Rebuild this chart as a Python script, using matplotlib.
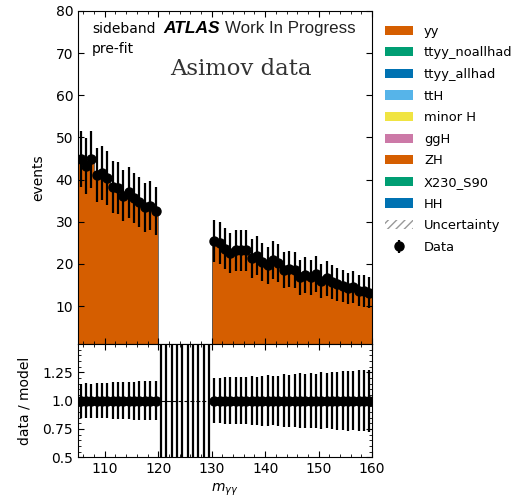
import numpy as np
import matplotlib
matplotlib.use('Agg')
import matplotlib.pyplot as plt
from matplotlib.patches import Patch
from matplotlib.ticker import AutoMinorLocator, MultipleLocator

# m_yy binning (1 GeV bins), signal region 120-130 is blinded
edges = np.arange(105, 161, 1)
blind_lo, blind_hi = 120, 130

# Asimov yields in the sidebands (pre-fit continuum yy)
yy_low = [44.9, 43.2, 44.8, 41.0, 41.6, 40.4, 38.2, 38.0, 36.2, 37.0,
          35.6, 34.7, 33.4, 33.8, 32.5]
yy_high = [25.4, 25.0, 23.6, 22.6, 23.2, 23.2, 23.2, 21.4, 22.0, 20.4,
           19.7, 20.9, 20.3, 18.6, 18.8, 18.6, 16.8, 17.4, 16.8, 17.6,
           15.9, 16.6, 15.7, 15.2, 14.8, 14.2, 14.6, 13.7, 13.6, 13.2]

# stack components for the legend
components = ['yy', 'ttyy_noallhad', 'ttyy_allhad', 'ttH', 'minor H',
              'ggH', 'ZH', 'X230_S90', 'HH']
colors = ['#D55E00', '#009E73', '#0072B2', '#56B4E9', '#F0E442',
          '#CC79A7', '#D55E00', '#009E73', '#0072B2']

ratio_ticks = [0.5, 0.75, 1.0, 1.25]
ratio_labels = ['0.5', '0.75', '1.0', '1.25']

centers = 0.5 * (edges[:-1] + edges[1:])
blinded = (centers > blind_lo) & (centers < blind_hi)
model = np.zeros(len(centers))
model[centers < blind_lo] = yy_low
model[centers > blind_hi] = yy_high
data = model.copy()
shown = ~blinded
data_err = np.sqrt(data)

fig = plt.figure(figsize=(5.27, 4.98), dpi=100)
ax = fig.add_axes([0.148, 0.309, 0.558, 0.669])
axr = fig.add_axes([0.148, 0.082, 0.558, 0.227], sharex=ax)

# stacked background (only yy is visible at this scale)
ax.stairs(model, edges, fill=True, color=colors[0], baseline=0)
ax.stairs(model, edges, baseline=0, color='#555555', lw=0.6)

eb = ax.errorbar(centers[shown], data[shown], yerr=data_err[shown], fmt='o',
                 color='black', ms=6.5, elinewidth=1.6, capsize=0)

ax.set_xlim(105, 160)
ax.set_ylim(1, 80)
ax.set_ylabel('events', fontsize=10)
ax.yaxis.set_label_coords(-0.112, 0.5)
ax.yaxis.set_major_locator(MultipleLocator(10))
ax.xaxis.set_minor_locator(AutoMinorLocator(5))
ax.tick_params(axis='both', which='both', direction='in', top=True, right=True,
               labelsize=10)
ax.tick_params(which='major', length=4)
ax.tick_params(which='minor', length=2)
ax.tick_params(axis='x', labelbottom=False)

ax.text(0.048, 0.946, 'sideband', transform=ax.transAxes, fontsize=10,
        va='center', ha='left')
ax.text(0.289, 0.946, 'ATLAS', transform=ax.transAxes, fontsize=12.5,
        va='center', ha='left', fontweight='bold', fontstyle='italic',
        family='Liberation Sans')
ax.text(0.500, 0.946, 'Work In Progress', transform=ax.transAxes,
        fontsize=12.2, va='center', ha='left', family='Liberation Sans',
        color='#222222')
ax.text(0.048, 0.886, 'pre-fit', transform=ax.transAxes, fontsize=10,
        va='center', ha='left')
ax.text(0.554, 0.826, 'Asimov data', transform=ax.transAxes, fontsize=16.4,
        va='center', ha='center', family='DejaVu Serif', color='#333333')

# ratio panel
ratio = data[shown] / model[shown]
ratio_err = data_err[shown] / model[shown]
axr.axhline(1.0, color='black', ls='--', lw=0.8)
axr.errorbar(centers[shown], ratio, yerr=ratio_err, fmt='o', color='black',
             ms=6.5, elinewidth=1.6, capsize=0)
axr.vlines(centers[blinded], 0, 1, transform=axr.get_xaxis_transform(),
           color='black', lw=1.6)
axr.set_ylim(0.5, 1.5)
axr.set_yticks(ratio_ticks)
axr.set_yticklabels(ratio_labels)
axr.yaxis.set_minor_locator(AutoMinorLocator(5))
axr.xaxis.set_major_locator(MultipleLocator(10))
axr.xaxis.set_minor_locator(AutoMinorLocator(5))
axr.tick_params(axis='both', which='both', direction='in', top=True,
                right=True, labelsize=10)
axr.tick_params(which='major', length=4)
axr.tick_params(which='minor', length=2)
axr.set_ylabel('data / model', fontsize=10)
axr.yaxis.set_label_coords(-0.157, 0.5)
axr.set_xlabel(r'$m_{\gamma\gamma}$', fontsize=10)

handles = [Patch(facecolor=c, edgecolor='none') for c in colors]
handles.append(Patch(facecolor='none', edgecolor='#999999', hatch='////', lw=0))
handles.append(eb)
labels = components + ['Uncertainty', 'Data']
fig.legend(handles, labels, loc='upper left', bbox_to_anchor=(0.708, 0.974),
           frameon=False, fontsize=9.4, handlelength=2.15, handletextpad=0.85,
           labelspacing=0.66)

fig.savefig('out.png', dpi=100)
